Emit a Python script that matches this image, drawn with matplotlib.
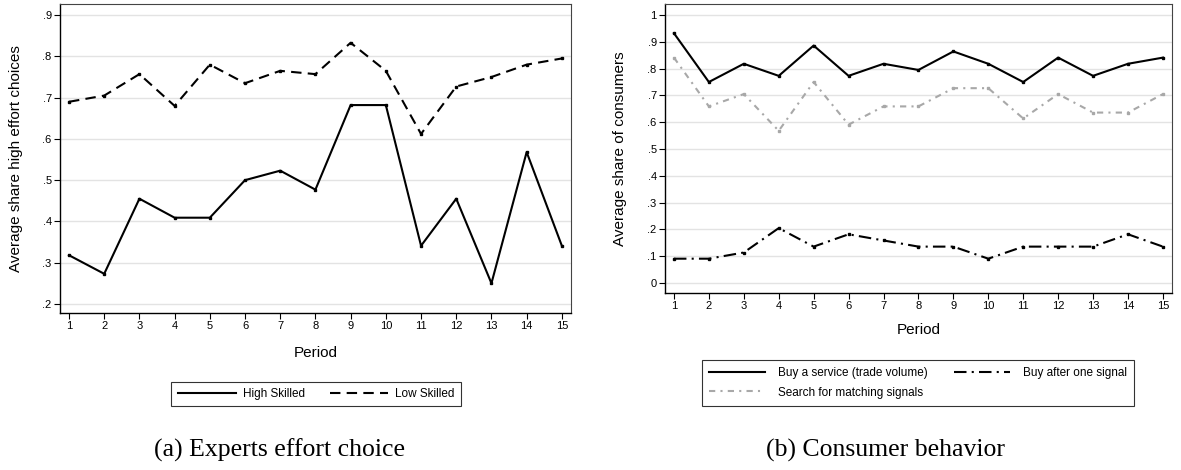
import numpy as np
import matplotlib
matplotlib.use('Agg')
import matplotlib.pyplot as plt

plt.rcParams['font.family'] = ['Liberation Sans', 'DejaVu Sans']

# 数据
periods = list(range(1, 16))
high_skilled = [0.318, 0.273, 0.455, 0.409, 0.409, 0.500, 0.523, 0.477, 0.682, 0.682,
                0.341, 0.455, 0.250, 0.568, 0.341]
low_skilled = [0.690, 0.705, 0.757, 0.680, 0.780, 0.735, 0.765, 0.757, 0.833, 0.765,
               0.612, 0.727, 0.750, 0.780, 0.795]

buy_service = [0.932, 0.750, 0.818, 0.773, 0.886, 0.773, 0.818, 0.795, 0.864, 0.818,
               0.750, 0.841, 0.773, 0.818, 0.841]
buy_one_signal = [0.091, 0.091, 0.114, 0.205, 0.136, 0.182, 0.159, 0.136, 0.136, 0.091,
                  0.136, 0.136, 0.136, 0.182, 0.136]
search_match = [0.841, 0.659, 0.705, 0.568, 0.750, 0.591, 0.659, 0.659, 0.727, 0.727,
                0.614, 0.705, 0.636, 0.636, 0.705]

left_yticks = [0.2, 0.3, 0.4, 0.5, 0.6, 0.7, 0.8, 0.9]
right_yticks = [0, 0.1, 0.2, 0.3, 0.4, 0.5, 0.6, 0.7, 0.8, 0.9, 1]


def fmt(v):
    if v == 0:
        return '0'
    if v == 1:
        return '1'
    return ('%.1f' % v).lstrip('0')


W, H = 1181, 470
fig = plt.figure(figsize=(W / 100, H / 100), dpi=100)


def style_axes(ax, yticks, ylim):
    ax.set_xlim(0.744, 15.26)
    ax.set_ylim(*ylim)
    ax.set_xticks(periods)
    ax.set_xticklabels([str(p) for p in periods], fontsize=8)
    ax.set_yticks(yticks)
    ax.set_yticklabels([fmt(v) for v in yticks], fontsize=8)
    ax.tick_params(direction='out', length=4, width=0.8, pad=2, colors='black')
    ax.grid(axis='y', color='#e3e3e3', linewidth=1.0)
    ax.set_axisbelow(True)
    for s in ax.spines.values():
        s.set_linewidth(0.8)
        s.set_color('#444444')
    ax.spines['left'].set_color('black')
    ax.spines['bottom'].set_color('black')
    ax.spines['left'].set_linewidth(1.0)
    ax.spines['bottom'].set_linewidth(1.0)


# (a) 专家努力选择
ax1 = fig.add_axes([60 / W, 1 - 313 / H, 511 / W, 309 / H])
style_axes(ax1, left_yticks, (0.178, 0.927))
l1, = ax1.plot(periods, high_skilled, color='black', lw=1.5, marker='s', ms=1.8,
               label='High Skilled')
l2, = ax1.plot(periods, low_skilled, color='black', lw=1.5, ls=(0, (5, 3)), marker='s', ms=1.8,
               label='Low Skilled')
ax1.set_ylabel('Average share high effort choices', fontsize=11)
ax1.set_xlabel('Period', fontsize=11)
ax1.yaxis.set_label_coords(-0.072, 0.5)
ax1.xaxis.set_label_coords(0.5, -0.107)
leg1 = fig.legend(handles=[l1, l2], loc='center', bbox_to_anchor=(316 / W, 1 - 394 / H),
                  ncol=2, fontsize=8.5, frameon=True, fancybox=False, edgecolor='black',
                  handlelength=4.9, columnspacing=2.1, borderpad=0.55, handletextpad=0.6)
leg1.get_frame().set_linewidth(0.8)
for h in leg1.legend_handles:
    h.set_marker('')

# (b) 消费者行为
ax2 = fig.add_axes([665 / W, 1 - 293 / H, 507 / W, 289 / H])
style_axes(ax2, right_yticks, (-0.037, 1.041))
m1, = ax2.plot(periods, buy_service, color='black', lw=1.5, marker='s', ms=1.8,
               label='Buy a service (trade volume)')
m2, = ax2.plot(periods, buy_one_signal, color='black', lw=1.5, ls=(0, (6, 2.5, 1, 2.5)),
               marker='s', ms=1.8, label='Buy after one signal')
m3, = ax2.plot(periods, search_match, color='#a8a8a8', lw=1.5, ls=(0, (3, 2.5, 1, 2.5)),
               marker='s', ms=1.5, label='Search for matching signals')
ax2.set_ylabel('Average share of consumers', fontsize=11)
ax2.set_xlabel('Period', fontsize=11)
ax2.yaxis.set_label_coords(-0.075, 0.5)
ax2.xaxis.set_label_coords(0.5, -0.104)
leg2 = fig.legend(handles=[m1, m3, m2], loc='center', bbox_to_anchor=(918 / W, 1 - 383 / H),
                  ncol=2, fontsize=8.5, frameon=True, fancybox=False, edgecolor='black',
                  handlelength=4.7, columnspacing=2.3, borderpad=0.6, handletextpad=1.1,
                  labelspacing=0.6)
leg2.get_frame().set_linewidth(0.8)
for h in leg2.legend_handles:
    h.set_marker('')

serif = ['Liberation Serif', 'DejaVu Serif']
fig.text(280 / W, 1 - 450 / H, '(a) Experts effort choice', family=serif, fontsize=18.5,
         ha='center', va='center')
fig.text(885 / W, 1 - 450 / H, '(b) Consumer behavior', family=serif, fontsize=18.5,
         ha='center', va='center')

fig.savefig('out.png', dpi=100)
